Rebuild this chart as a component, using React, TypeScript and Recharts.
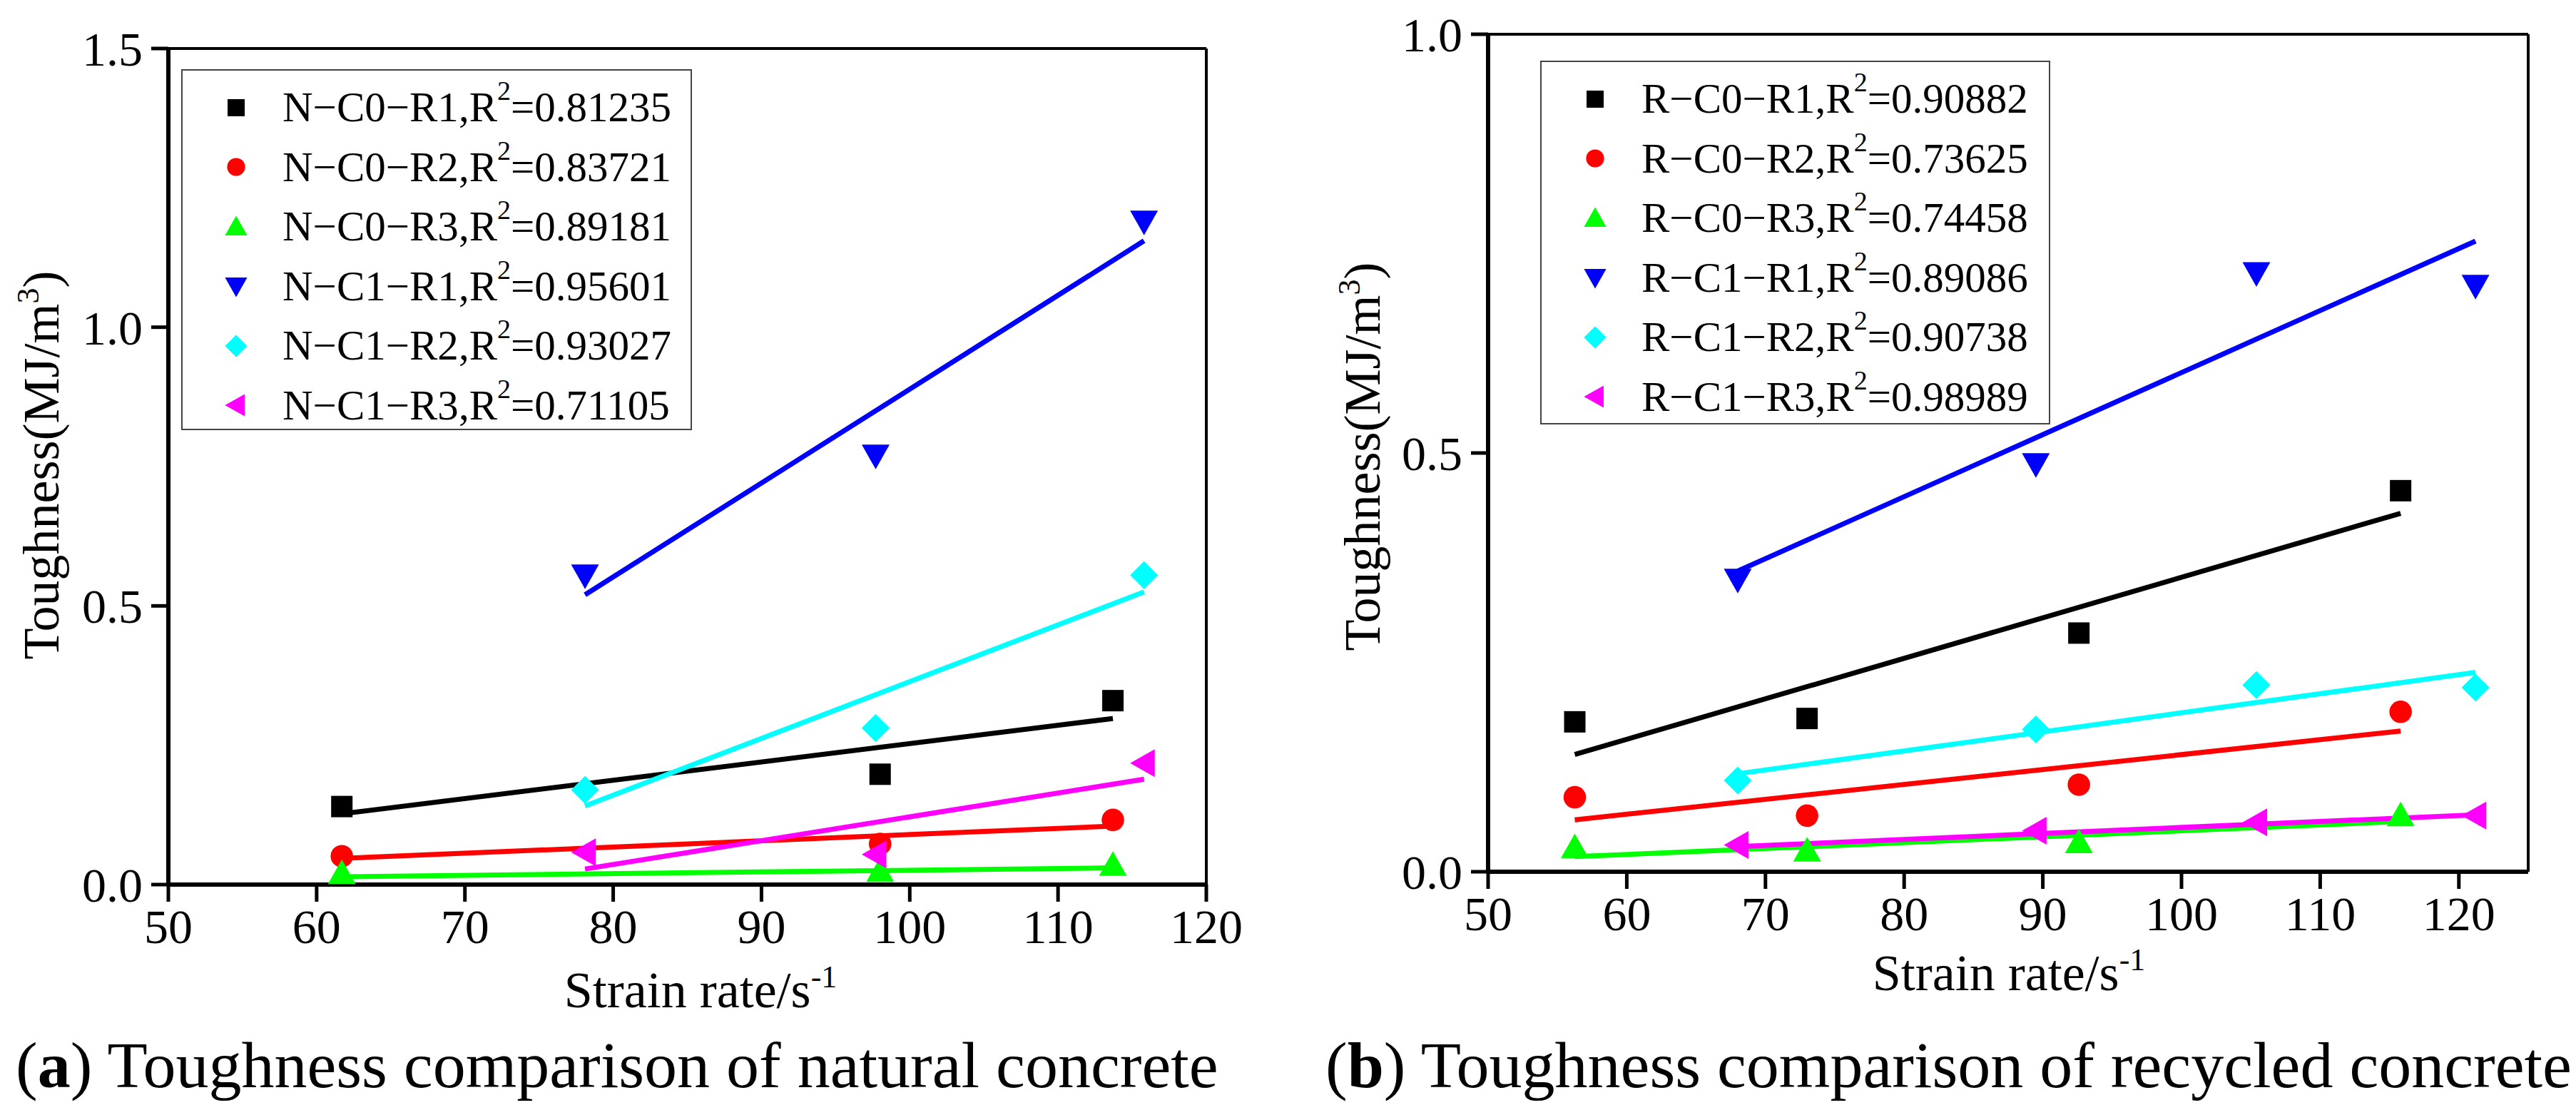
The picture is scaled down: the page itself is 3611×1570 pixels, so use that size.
import React from 'react';
import { ComposedChart, Scatter, XAxis, YAxis, ReferenceLine, Legend } from 'recharts';

const FONT = "'Liberation Serif', 'Times New Roman', serif";

// Natural concrete (a)
const aNames = ['N−C0−R1', 'N−C0−R2', 'N−C0−R3', 'N−C1−R1', 'N−C1−R2', 'N−C1−R3'];
const aR2 = ['0.81235', '0.83721', '0.89181', '0.95601', '0.93027', '0.71105'];
const aX0 = [61.7, 98.0, 113.7];
const aX1 = [78.1, 97.7, 115.8];
const aC0R1 = [0.14, 0.198, 0.33];
const aC0R2 = [0.051, 0.073, 0.116];
const aC0R3 = [0.02, 0.024, 0.035];
const aC1R1 = [0.555, 0.77, 1.19];
const aC1R2 = [0.17, 0.281, 0.555];
const aC1R3 = [0.058, 0.054, 0.218];
const aFitC0R1 = [0.127, 0.298];
const aFitC0R2 = [0.047, 0.105];
const aFitC0R3 = [0.014, 0.03];
const aFitC1R1 = [0.52, 1.155];
const aFitC1R2 = [0.141, 0.525];
const aFitC1R3 = [0.028, 0.189];

// Recycled concrete (b)
const bNames = ['R−C0−R1', 'R−C0−R2', 'R−C0−R3', 'R−C1−R1', 'R−C1−R2', 'R−C1−R3'];
const bR2 = ['0.90882', '0.73625', '0.74458', '0.89086', '0.90738', '0.98989'];
const bX0 = [56.25, 73.0, 92.6, 115.8];
const bX1 = [68.0, 89.5, 105.4, 121.2];
const bC0R1 = [0.179, 0.183, 0.285, 0.455];
const bC0R2 = [0.089, 0.067, 0.104, 0.191];
const bC0R3 = [0.029, 0.025, 0.035, 0.067];
const bC1R1 = [0.349, 0.487, 0.715, 0.70];
const bC1R2 = [0.109, 0.17, 0.223, 0.22];
const bC1R3 = [0.032, 0.049, 0.059, 0.067];
const bFitC0R1 = [0.14, 0.428];
const bFitC0R2 = [0.062, 0.168];
const bFitC0R3 = [0.018, 0.06];
const bFitC1R1 = [0.359, 0.753];
const bFitC1R2 = [0.117, 0.238];
const bFitC1R3 = [0.03, 0.068];

const colors = ['#000000', '#ff0000', '#00ff00', '#0000ff', '#00ffff', '#ff00ff'];
const shapes = ['square', 'circle', 'up', 'down', 'diamond', 'left'];

const pts = (xs: number[], ys: number[]) => xs.map((x, i) => ({ x, y: ys[i] }));
const fit = (xs: number[], ys: number[]) => [
  { x: xs[0], y: ys[0] },
  { x: xs[xs.length - 1], y: ys[1] },
];

function Marker({ kind, cx, cy, color, s = 15 }: any) {
  if (kind === 'square') return <rect x={cx - s} y={cy - s} width={2 * s} height={2 * s} fill={color} />;
  if (kind === 'circle') return <circle cx={cx} cy={cy} r={s * 1.05} fill={color} />;
  if (kind === 'up') return <polygon points={`${cx},${cy - s * 1.3} ${cx + s * 1.3},${cy + s} ${cx - s * 1.3},${cy + s}`} fill={color} />;
  if (kind === 'down') return <polygon points={`${cx},${cy + s * 1.3} ${cx + s * 1.3},${cy - s} ${cx - s * 1.3},${cy - s}`} fill={color} />;
  if (kind === 'diamond') return <polygon points={`${cx},${cy - s * 1.3} ${cx + s * 1.3},${cy} ${cx},${cy + s * 1.3} ${cx - s * 1.3},${cy}`} fill={color} />;
  return <polygon points={`${cx - s * 1.3},${cy} ${cx + s},${cy - s * 1.3} ${cx + s},${cy + s * 1.3}`} fill={color} />;
}

const shapeFn = (kind: string, color: string) => (p: any) => <Marker kind={kind} cx={p.cx} cy={p.cy} color={color} />;
const noShape = () => <g />;

function LegendBox({ names, r2 }: any) {
  return (
    <div style={{ border: '2px solid #444', background: '#fff', width: '100%', height: '100%', boxSizing: 'border-box', paddingTop: 10 }}>
      {names.map((n: string, i: number) => (
        <div key={n} style={{ display: 'flex', alignItems: 'center', height: 83.5, fontFamily: FONT, fontSize: 59, color: '#000', whiteSpace: 'nowrap' }}>
          <svg width={140} height={60} style={{ flex: 'none' }}>
            <Marker kind={shapes[i]} cx={75} cy={30} color={colors[i]} s={12} />
          </svg>
          <span style={{ fontFamily: FONT }}>
            {n},R<sup style={{ fontSize: 38, verticalAlign: 'top', lineHeight: 1, position: 'relative', top: -8 }}>2</sup>={r2[i]}
          </span>
        </div>
      ))}
    </div>
  );
}

function Panel(props: any) {
  const { width, height, margin, xDomain, yDomain, xMajor, xMinor, yMajor, yMinor, yW, xH, series, names, r2, legend, yTitle, xTitle } = props;
  const tickStyle = { fontFamily: FONT, fontSize: 68, fill: '#000', style: { fontFamily: FONT } };
  return (
    <ComposedChart width={width} height={height} margin={margin} style={{ fontFamily: FONT }}>
      <XAxis xAxisId="minor" type="number" dataKey="x" domain={xDomain} ticks={xMinor} tick={false} height={0}
        axisLine={false} tickLine={{ stroke: '#000', strokeWidth: 5 }} tickSize={12} allowDataOverflow />
      <XAxis xAxisId="main" type="number" dataKey="x" domain={xDomain} ticks={xMajor} height={xH} interval={0}
        axisLine={{ stroke: '#000', strokeWidth: 6 }} tickLine={{ stroke: '#000', strokeWidth: 5 }} tickSize={24} tickMargin={10}
        tick={tickStyle} allowDataOverflow
        label={() => (
          <text x={xTitle.x} y={xTitle.y} textAnchor="middle" style={{ fontFamily: FONT }} fontSize={72} fill="#000">
            Strain rate/s<tspan dy={-28} fontSize={44}>-1</tspan>
          </text>
        )} />
      <YAxis yAxisId="minor" type="number" dataKey="y" domain={yDomain} ticks={yMinor} tick={false} width={0}
        axisLine={false} tickLine={{ stroke: '#000', strokeWidth: 5 }} tickSize={12} allowDataOverflow />
      <YAxis yAxisId="main" type="number" dataKey="y" domain={yDomain} ticks={yMajor} width={yW} interval={0}
        axisLine={{ stroke: '#000', strokeWidth: 6 }} tickLine={{ stroke: '#000', strokeWidth: 5 }} tickSize={24} tickMargin={12}
        tick={tickStyle} tickFormatter={(v: number) => v.toFixed(1)} allowDataOverflow
        label={() => (
          <text x={yTitle.x} y={yTitle.y} transform={`rotate(-90 ${yTitle.x} ${yTitle.y})`} textAnchor="middle" style={{ fontFamily: FONT }} fontSize={72} fill="#000">
            Toughness(MJ/m<tspan dy={-28} fontSize={44}>3</tspan><tspan dy={28}>)</tspan>
          </text>
        )} />
      <ReferenceLine xAxisId="main" yAxisId="main" y={yDomain[1]} stroke="#000" strokeWidth={4} ifOverflow="extendDomain" />
      <ReferenceLine xAxisId="main" yAxisId="main" x={xDomain[1]} stroke="#000" strokeWidth={4} ifOverflow="extendDomain" />
      {series.map((s: any, i: number) => (
        <Scatter key={'f' + i} xAxisId="main" yAxisId="main" data={s.fit} line={{ stroke: colors[i], strokeWidth: 7 }}
          shape={noShape} isAnimationActive={false} legendType="none" />
      ))}
      {series.map((s: any, i: number) => (
        <Scatter key={'p' + i} name={names[i]} xAxisId="main" yAxisId="main" data={s.pts} fill={colors[i]}
          shape={shapeFn(shapes[i], colors[i])} isAnimationActive={false} />
      ))}
      <Legend layout="vertical" align="center" verticalAlign="middle"
        wrapperStyle={{ position: 'absolute', left: legend.left, top: legend.top, width: legend.w, height: legend.h }}
        content={() => <LegendBox names={names} r2={r2} />} />
    </ComposedChart>
  );
}

export default function App() {
  const aSeries = [
    { pts: pts(aX0, aC0R1), fit: fit(aX0, aFitC0R1) },
    { pts: pts(aX0, aC0R2), fit: fit(aX0, aFitC0R2) },
    { pts: pts(aX0, aC0R3), fit: fit(aX0, aFitC0R3) },
    { pts: pts(aX1, aC1R1), fit: fit(aX1, aFitC1R1) },
    { pts: pts(aX1, aC1R2), fit: fit(aX1, aFitC1R2) },
    { pts: pts(aX1, aC1R3), fit: fit(aX1, aFitC1R3) },
  ];
  const bSeries = [
    { pts: pts(bX0, bC0R1), fit: fit(bX0, bFitC0R1) },
    { pts: pts(bX0, bC0R2), fit: fit(bX0, bFitC0R2) },
    { pts: pts(bX0, bC0R3), fit: fit(bX0, bFitC0R3) },
    { pts: pts(bX1, bC1R1), fit: fit(bX1, bFitC1R1) },
    { pts: pts(bX1, bC1R2), fit: fit(bX1, bFitC1R2) },
    { pts: pts(bX1, bC1R3), fit: fit(bX1, bFitC1R3) },
  ];
  const capStyle: any = { position: 'absolute', top: 1438, fontFamily: FONT, fontSize: 92, lineHeight: '110px', color: '#000', whiteSpace: 'nowrap' };
  return (
    <div style={{ position: 'absolute', left: 0, top: 0, width: 3611, height: 1570, background: '#fff', overflow: 'hidden', fontFamily: FONT }}>
      <div style={{ position: 'absolute', left: 0, top: 0 }}>
        <Panel width={1780} height={1440} margin={{ top: 68, right: 89, left: 0, bottom: 0 }} yW={236} xH={200}
          xDomain={[50, 120]} yDomain={[0, 1.5]} xMajor={[50, 60, 70, 80, 90, 100, 110, 120]}
          xMinor={[55, 65, 75, 85, 95, 105, 115]} yMajor={[0, 0.5, 1, 1.5]} yMinor={[0.25, 0.75, 1.25]}
          series={aSeries} names={aNames} r2={aR2} legend={{ left: 254, top: 97, w: 716, h: 506 }}
          yTitle={{ x: 82, y: 652 }} xTitle={{ x: 982, y: 1412 }} />
      </div>
      <div style={{ position: 'absolute', left: 1800, top: 0 }}>
        <Panel width={1811} height={1440} margin={{ top: 48, right: 67, left: 0, bottom: 0 }} yW={286} xH={218}
          xDomain={[50, 125]} yDomain={[0, 1]} xMajor={[50, 60, 70, 80, 90, 100, 110, 120]}
          xMinor={[55, 65, 75, 85, 95, 105, 115]} yMajor={[0, 0.5, 1]} yMinor={[0.25, 0.75]}
          series={bSeries} names={bNames} r2={bR2} legend={{ left: 359, top: 85, w: 715, h: 510 }}
          yTitle={{ x: 134, y: 640 }} xTitle={{ x: 1016, y: 1388 }} />
      </div>
      <div style={{ ...capStyle, left: 22 }}>(<b>a</b>) Toughness comparison of natural concrete</div>
      <div style={{ ...capStyle, left: 1858 }}>(<b>b</b>) Toughness comparison of recycled concrete</div>
    </div>
  );
}
